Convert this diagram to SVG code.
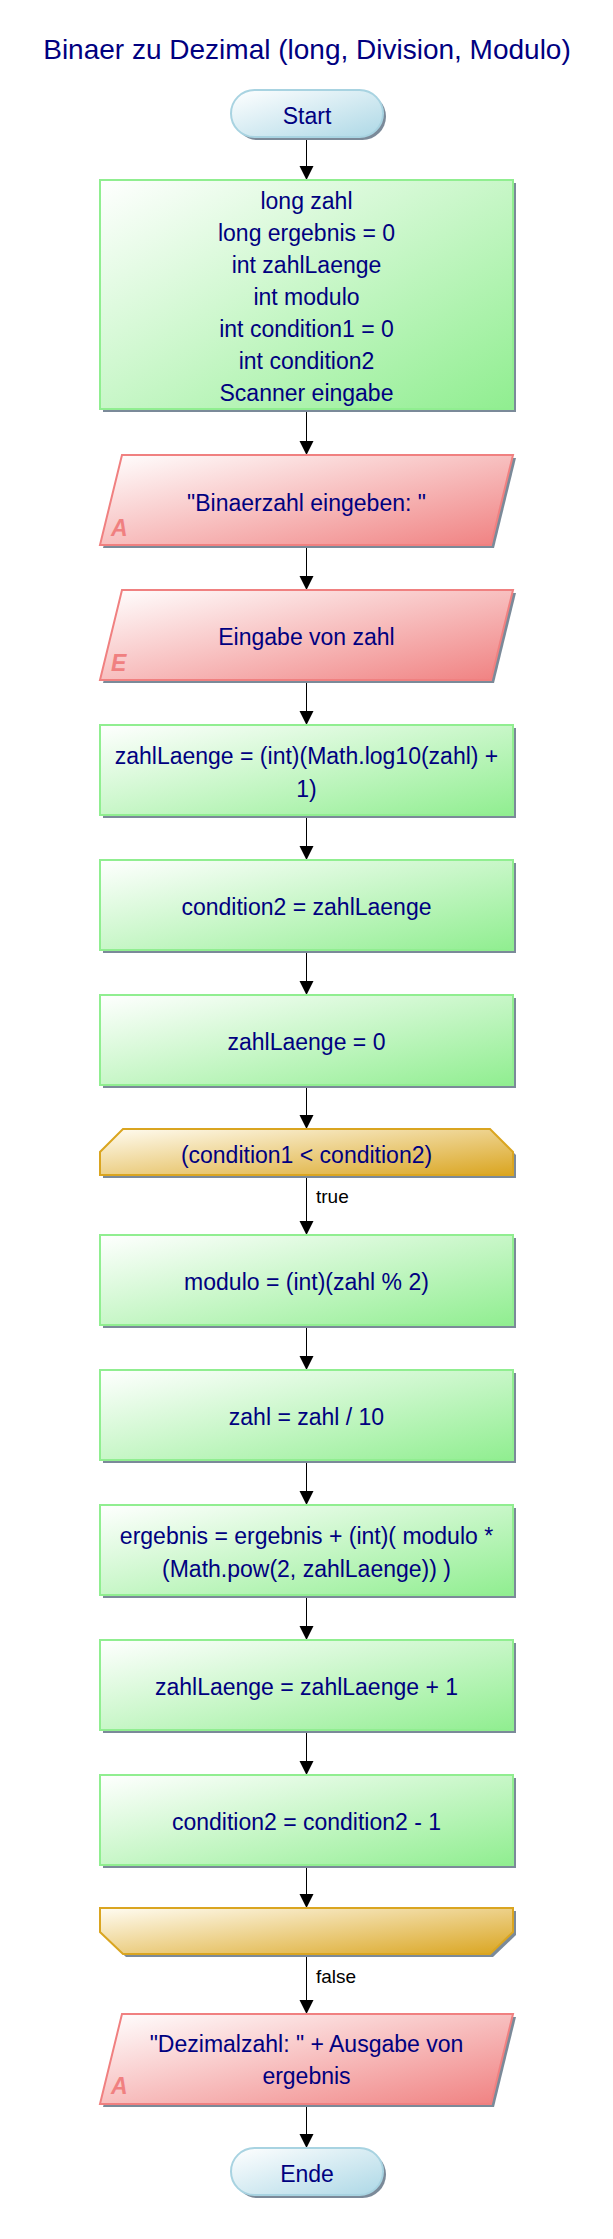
<svg xmlns="http://www.w3.org/2000/svg" width="613" height="2239" viewBox="0 0 613 2239">
<style>
.t{font-family:"Liberation Sans",Arial,sans-serif;font-size:23px;fill:#000080;text-anchor:middle}
.ttl{font-family:"Liberation Sans",Arial,sans-serif;font-size:28px;fill:#000080;text-anchor:middle}
.lbl{font-family:"Liberation Sans",Arial,sans-serif;font-size:19px;fill:#000000}
.io{font-family:"Liberation Sans",Arial,sans-serif;font-size:23px;font-weight:bold;font-style:italic;fill:#f08080}
.sh{fill:#7b8a99}
.pr{fill:url(#gG);stroke:#90ee90;stroke-width:2}
.par{fill:url(#gR);stroke:#f08080;stroke-width:2}
.lp{fill:url(#gY);stroke:#daa520;stroke-width:2}
.tm{fill:url(#gB);stroke:#a8d3e1;stroke-width:2}
.c{stroke:#000;stroke-width:1;fill:none}
.ah{fill:#000}
</style>
<defs>
<linearGradient id="gG" x1="0" y1="0" x2="1" y2="1"><stop offset="0" stop-color="#ffffff"/><stop offset="1" stop-color="#90ee90"/></linearGradient>
<linearGradient id="gR" x1="0" y1="0" x2="1" y2="1"><stop offset="0" stop-color="#ffffff"/><stop offset="1" stop-color="#f08080"/></linearGradient>
<linearGradient id="gY" x1="0" y1="0" x2="1" y2="1"><stop offset="0" stop-color="#fffcf2"/><stop offset="1" stop-color="#daa520"/></linearGradient>
<linearGradient id="gB" x1="0" y1="0" x2="1" y2="1"><stop offset="0" stop-color="#ffffff"/><stop offset="1" stop-color="#add8e6"/></linearGradient>
</defs>
<rect width="613" height="2239" fill="#ffffff"/>
<text id="title" class="ttl" x="307" y="59">Binaer zu Dezimal (long, Division, Modulo)</text>

<g id="connectors">
<path class="c" d="M306.5 137V167M306.5 409V442M306.5 545V577M306.5 680V712M306.5 815V847M306.5 950V982M306.5 1085V1116M306.5 1175V1222M306.5 1325V1357M306.5 1460V1492M306.5 1595V1627M306.5 1730V1762M306.5 1865V1895M306.5 1954V2001M306.5 2104V2135"/>
<polygon class="ah" points="299.5,166 313.5,166 306.5,180"/>
<polygon class="ah" points="299.5,441 313.5,441 306.5,455"/>
<polygon class="ah" points="299.5,576 313.5,576 306.5,590"/>
<polygon class="ah" points="299.5,711 313.5,711 306.5,725"/>
<polygon class="ah" points="299.5,846 313.5,846 306.5,860"/>
<polygon class="ah" points="299.5,981 313.5,981 306.5,995"/>
<polygon class="ah" points="299.5,1115 313.5,1115 306.5,1129"/>
<polygon class="ah" points="299.5,1221 313.5,1221 306.5,1235"/>
<polygon class="ah" points="299.5,1356 313.5,1356 306.5,1370"/>
<polygon class="ah" points="299.5,1491 313.5,1491 306.5,1505"/>
<polygon class="ah" points="299.5,1626 313.5,1626 306.5,1640"/>
<polygon class="ah" points="299.5,1761 313.5,1761 306.5,1775"/>
<polygon class="ah" points="299.5,1894 313.5,1894 306.5,1908"/>
<polygon class="ah" points="299.5,2000 313.5,2000 306.5,2014"/>
<polygon class="ah" points="299.5,2134 313.5,2134 306.5,2148"/>
<text class="lbl" x="316" y="1203">true</text>
<text class="lbl" x="316" y="1983">false</text>
</g>

<g id="start">
<rect class="sh" x="234" y="93" width="152" height="47" rx="23.5"/>
<rect class="tm" x="231" y="90" width="152" height="47" rx="23.5"/>
<text class="t" x="307" y="124">Start</text>
</g>

<g id="decl">
<rect class="sh" x="103" y="183" width="413" height="229"/>
<rect class="pr" x="100" y="180" width="413" height="229"/>
<text class="t" x="306.5" y="209">long zahl</text>
<text class="t" x="306.5" y="241">long ergebnis = 0</text>
<text class="t" x="306.5" y="273">int zahlLaenge</text>
<text class="t" x="306.5" y="305">int modulo</text>
<text class="t" x="306.5" y="337">int condition1 = 0</text>
<text class="t" x="306.5" y="369">int condition2</text>
<text class="t" x="306.5" y="401">Scanner eingabe</text>
</g>

<g id="out1">
<polygon class="sh" points="125,458 516,458 494,548 103,548"/>
<polygon class="par" points="122,455 513,455 491,545 100,545"/>
<text class="io" x="111" y="536">A</text>
<text class="t" x="306.5" y="511">"Binaerzahl eingeben: "</text>
</g>

<g id="in1">
<polygon class="sh" points="125,593 516,593 494,683 103,683"/>
<polygon class="par" points="122,590 513,590 491,680 100,680"/>
<text class="io" x="111" y="671">E</text>
<text class="t" x="306.5" y="645">Eingabe von zahl</text>
</g>

<g id="p1">
<rect class="sh" x="103" y="728" width="413" height="90"/>
<rect class="pr" x="100" y="725" width="413" height="90"/>
<text class="t" x="306.5" y="764">zahlLaenge = (int)(Math.log10(zahl) +</text>
<text class="t" x="306.5" y="797">1)</text>
</g>

<g id="p2">
<rect class="sh" x="103" y="863" width="413" height="90"/>
<rect class="pr" x="100" y="860" width="413" height="90"/>
<text class="t" x="306.5" y="915">condition2 = zahlLaenge</text>
</g>

<g id="p3">
<rect class="sh" x="103" y="998" width="413" height="90"/>
<rect class="pr" x="100" y="995" width="413" height="90"/>
<text class="t" x="306.5" y="1050">zahlLaenge = 0</text>
</g>

<g id="loop">
<polygon class="sh" points="126,1132 493,1132 516,1155 516,1178 103,1178 103,1155"/>
<polygon class="lp" points="123,1129 490,1129 513,1152 513,1175 100,1175 100,1152"/>
<text class="t" x="306.5" y="1163">(condition1 &lt; condition2)</text>
</g>

<g id="p4">
<rect class="sh" x="103" y="1238" width="413" height="90"/>
<rect class="pr" x="100" y="1235" width="413" height="90"/>
<text class="t" x="306.5" y="1290">modulo = (int)(zahl % 2)</text>
</g>

<g id="p5">
<rect class="sh" x="103" y="1373" width="413" height="90"/>
<rect class="pr" x="100" y="1370" width="413" height="90"/>
<text class="t" x="306.5" y="1425">zahl = zahl / 10</text>
</g>

<g id="p6">
<rect class="sh" x="103" y="1508" width="413" height="90"/>
<rect class="pr" x="100" y="1505" width="413" height="90"/>
<text class="t" x="306.5" y="1544">ergebnis = ergebnis + (int)( modulo *</text>
<text class="t" x="306.5" y="1577">(Math.pow(2, zahlLaenge)) )</text>
</g>

<g id="p7">
<rect class="sh" x="103" y="1643" width="413" height="90"/>
<rect class="pr" x="100" y="1640" width="413" height="90"/>
<text class="t" x="306.5" y="1695">zahlLaenge = zahlLaenge + 1</text>
</g>

<g id="p8">
<rect class="sh" x="103" y="1778" width="413" height="90"/>
<rect class="pr" x="100" y="1775" width="413" height="90"/>
<text class="t" x="306.5" y="1830">condition2 = condition2 - 1</text>
</g>

<g id="loopend">
<polygon class="sh" points="103,1911 516,1911 516,1935 493,1957 126,1957 103,1935"/>
<polygon class="lp" points="100,1908 513,1908 513,1932 490,1954 123,1954 100,1932"/>
</g>

<g id="out2">
<polygon class="sh" points="125,2017 516,2017 494,2107 103,2107"/>
<polygon class="par" points="122,2014 513,2014 491,2104 100,2104"/>
<text class="io" x="111" y="2094">A</text>
<text class="t" x="306.5" y="2052">"Dezimalzahl: " + Ausgabe von</text>
<text class="t" x="306.5" y="2084">ergebnis</text>
</g>

<g id="end">
<rect class="sh" x="234" y="2151" width="152" height="47" rx="23.5"/>
<rect class="tm" x="231" y="2148" width="152" height="47" rx="23.5"/>
<text class="t" x="307" y="2182">Ende</text>
</g>
</svg>
